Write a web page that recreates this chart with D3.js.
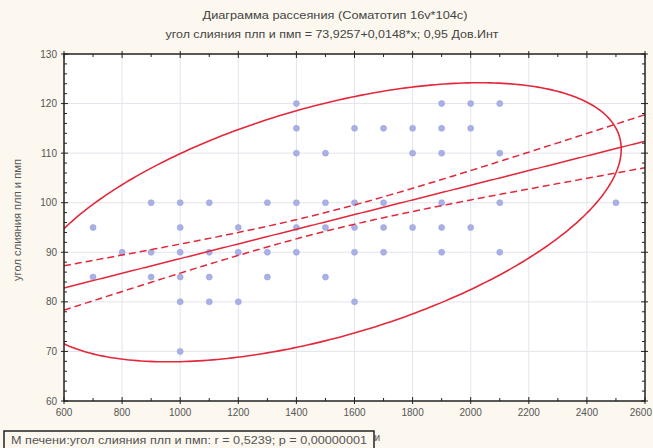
<!DOCTYPE html>
<html><head><meta charset="utf-8">
<script src="https://cdn.jsdelivr.net/npm/d3@7"></script>
<style>
html,body{margin:0;padding:0;background:#fcf8ef;}
svg{display:block;font-family:"Liberation Sans",Arial,sans-serif;}
</style></head>
<body>
<svg id="c" width="653" height="448"></svg>
<script>
// ---- data ----
const titleLines = ["Диаграмма рассеяния (Соматотип 16v*104c)",
                    "угол слияния плп и пмп = 73,9257+0,0148*x; 0,95 Дов.Инт"];
const yAxisTitle = "угол слияния плп и пмп";
const xAxisTitle = "М. печени";
const legendText = "М печени:угол слияния плп и пмп:   r = 0,5239; p = 0,00000001";
const xTicks = [600,800,1000,1200,1400,1600,1800,2000,2200,2400,2600];
const yTicks = [60,70,80,90,100,110,120,130];
// points grouped by y value
const rowY = [120,115,110,100,95,90,85,80,70];
const rowX = [
  [1400,1900,2000,2100],
  [1400,1600,1700,1800,1900,2000],
  [1400,1500,1800,1900,2100],
  [900,1000,1100,1300,1400,1500,1600,1700,1900,2100,2500],
  [700,1000,1200,1400,1500,1600,1700,1800,1900,2000],
  [800,900,1000,1100,1200,1300,1400,1600,1700,1900,2100],
  [700,900,1000,1100,1300,1500],
  [1000,1100,1200,1600],
  [1000]
];
// regression / ellipse statistics
const intercept = 73.9257, slope = 0.0148;
const r = 0.5239, n = 106, tCrit = 1.983;
const meanX = 1495, sdX = 418, sdY = 11.5, kEll = 2.4477;

// ---- layout ----
const svg = d3.select("#c");
const L = 64, R = 645, T = 54, B = 401;
const x = d3.scaleLinear().domain([600,2600]).range([L,R]);
const y = d3.scaleLinear().domain([60,130]).range([B,T]);
const red = "#e2283a";

svg.append("rect").attr("x",0).attr("y",0).attr("width",653).attr("height",448).attr("fill","#fcf8ef");
svg.append("rect").attr("x",L).attr("y",T).attr("width",R-L).attr("height",B-T).attr("fill","#ffffff");

// grid
svg.append("g").selectAll("line").data(xTicks.slice(1,-1)).join("line")
  .attr("x1",d=>x(d)).attr("x2",d=>x(d)).attr("y1",T).attr("y2",B)
  .attr("stroke","#e4e4ec").attr("stroke-width",1);
svg.append("g").selectAll("line").data(yTicks.slice(1,-1)).join("line")
  .attr("y1",d=>y(d)).attr("y2",d=>y(d)).attr("x1",L).attr("x2",R)
  .attr("stroke","#e4e4ec").attr("stroke-width",1);

// clip
svg.append("clipPath").attr("id","clip").append("rect")
  .attr("x",L).attr("y",T).attr("width",R-L).attr("height",B-T);
const plot = svg.append("g").attr("clip-path","url(#clip)");

// points
const pts = [];
rowY.forEach((yy,i)=>rowX[i].forEach(xx=>pts.push({x:xx,y:yy})));
plot.append("g").selectAll("circle").data(pts).join("circle")
  .attr("cx",d=>x(d.x)).attr("cy",d=>y(d.y)).attr("r",3)
  .attr("fill","#a9b0e6").attr("stroke","#9aa2dc").attr("stroke-width",0.6);

// regression line & confidence band
const xs = d3.range(600,2601,10);
const fit = v => intercept + slope*v;
const sRes = sdY*Math.sqrt(1-r*r);
const half = v => tCrit*sRes*Math.sqrt(1/n + (v-meanX)*(v-meanX)/((n-1)*sdX*sdX));
const line = d3.line().x(d=>x(d[0])).y(d=>y(d[1]));
plot.append("path").attr("d",line(xs.map(v=>[v,fit(v)])))
  .attr("fill","none").attr("stroke",red).attr("stroke-width",1.5);
[1,-1].forEach(sg=>{
  plot.append("path").attr("d",line(xs.map(v=>[v,fit(v)+sg*half(v)])))
    .attr("fill","none").attr("stroke",red).attr("stroke-width",1.5)
    .attr("stroke-dasharray","7,4");
});

// 95% ellipse
const meanY = fit(meanX);
const ang = d3.range(0,2*Math.PI+0.001,Math.PI/180);
const ell = ang.map(t=>{
  const u = Math.cos(t);
  const v = r*Math.cos(t) + Math.sqrt(1-r*r)*Math.sin(t);
  return [meanX + kEll*sdX*u, meanY + kEll*sdY*v];
});
plot.append("path").attr("d",line(ell)+"Z")
  .attr("fill","none").attr("stroke",red).attr("stroke-width",1.6);

// frame
svg.append("rect").attr("x",L).attr("y",T).attr("width",R-L).attr("height",B-T)
  .attr("fill","none").attr("stroke","#222").attr("stroke-width",1.5);

// ticks
const xMinor = d3.range(600,2601,100);
const yMinor = d3.range(60,131,2);
const tk = svg.append("g").attr("stroke","#222").attr("stroke-width",1);
xMinor.forEach(v=>{
  const major = xTicks.includes(v), len = major?4:3;
  tk.append("line").attr("x1",x(v)).attr("x2",x(v)).attr("y1",B+(major?3:0)).attr("y2",B-len);
  tk.append("line").attr("x1",x(v)).attr("x2",x(v)).attr("y1",T-(major?3:0)).attr("y2",T+len);
});
yMinor.forEach(v=>{
  const major = yTicks.includes(v), len = major?4:3;
  tk.append("line").attr("y1",y(v)).attr("y2",y(v)).attr("x1",L-(major?3:0)).attr("x2",L+len);
  tk.append("line").attr("y1",y(v)).attr("y2",y(v)).attr("x1",R+(major?3:0)).attr("x2",R-len);
});

// tick labels
const lastX = xTicks[xTicks.length-1];
svg.append("g").selectAll("text").data(xTicks).join("text")
  .attr("x",d=>d===lastX?652:x(d)).attr("y",B+15)
  .attr("text-anchor",d=>d===lastX?"end":"middle")
  .attr("font-size",10).attr("fill","#555").text(d=>d);
svg.append("g").selectAll("text").data(yTicks).join("text")
  .attr("x",L-7).attr("y",d=>y(d)+3.5).attr("text-anchor","end")
  .attr("font-size",10).attr("fill","#555").text(d=>d);

// titles
const tLen = [265, 333], tX = [335, 332];
svg.append("g").selectAll("text").data(titleLines).join("text")
  .attr("x",(d,i)=>tX[i]).attr("y",(d,i)=>19+i*19).attr("text-anchor","middle")
  .attr("font-size",11).attr("fill","#444")
  .attr("textLength",(d,i)=>tLen[i]).attr("lengthAdjust","spacingAndGlyphs").text(d=>d);
svg.append("text").attr("transform",`translate(21,220) rotate(-90)`)
  .attr("text-anchor","middle").attr("font-size",10).attr("fill","#555")
  .attr("textLength",122).attr("lengthAdjust","spacingAndGlyphs").text(yAxisTitle);
svg.append("text").attr("x",357).attr("y",441).attr("text-anchor","middle")
  .attr("font-size",10).attr("fill","#555").text(xAxisTitle);

// legend box
svg.append("rect").attr("x",4).attr("y",431).attr("width",370).attr("height",20)
  .attr("fill","#fcf8ef").attr("stroke","#222").attr("stroke-width",1.5);
svg.append("text").attr("x",11).attr("y",444).attr("font-size",10.5).attr("fill","#555")
  .attr("textLength",356).attr("lengthAdjust","spacingAndGlyphs").text(legendText);
</script>
</body></html>
